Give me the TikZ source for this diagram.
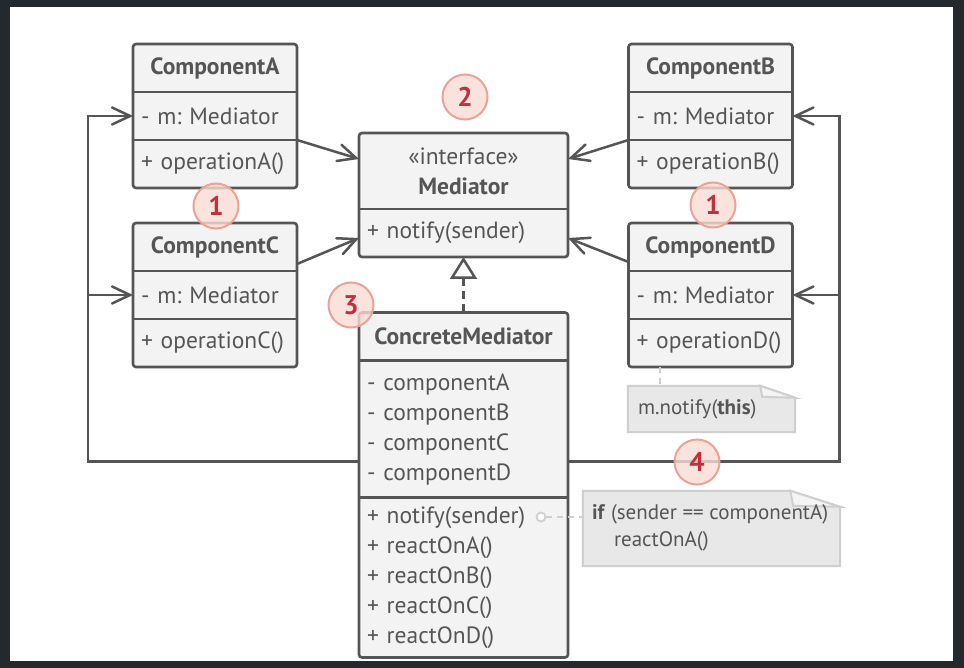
\documentclass[tikz,border=0pt]{standalone}
\usepackage{fontspec}
\setmainfont{PT Sans}
\usetikzlibrary{arrows.meta,positioning}
\frenchspacing

\definecolor{ink}{HTML}{555555}
\definecolor{boxfill}{HTML}{F3F3F3}
\definecolor{notefill}{HTML}{E8E8E8}
\definecolor{foldfill}{HTML}{F4F4F4}
\definecolor{noteline}{HTML}{CFCFCF}
\definecolor{badgefill}{HTML}{F9DCD5}
\definecolor{badgeline}{HTML}{EBA393}
\definecolor{badgetext}{HTML}{C1313B}
\definecolor{frame}{HTML}{24292E}

\begin{document}
\begin{tikzpicture}[x=1pt,y=-1pt]
\tikzset{
  part/.style={fill=boxfill, inner xsep=8pt, inner ysep=0pt, outer sep=0pt, minimum height=48pt, text=ink, font=\fontsize{23.5}{30}\selectfont},
  title/.style={part, align=center, text width=#1, font=\fontsize{23.5}{30}\selectfont\bfseries},
  field/.style={part, align=left, text width=#1},
  outline/.style={draw=ink, line width=2.6pt, rounded corners=3pt},
  divider/.style={draw=ink, line width=2.6pt},
  assoc/.style={draw=ink, line width=2.5pt, -{Straight Barb[length=18pt,width=17pt,line cap=round]}},
  realize/.style={draw=ink, line width=2.5pt, dash pattern=on 8pt off 5pt, -{Triangle[open,length=22pt,width=27pt]}},
  badge/.style={circle, minimum size=45pt, inner sep=0pt, fill=badgefill, fill opacity=0.8, text opacity=1, draw=badgeline, line width=2pt, text=badgetext, font=\fontsize{27}{27}\selectfont\bfseries},
  notebox/.style={fill=notefill, draw=noteline, line width=2pt},
  notetext/.style={text=ink, inner sep=0pt, align=left, font=\fontsize{21}{27}\selectfont},
  notelink/.style={draw=noteline, line width=2pt, dash pattern=on 6pt off 5pt},
  hook/.style={circle, draw=noteline, fill=white, line width=1.8pt, minimum size=9pt, inner sep=0pt}
}
\useasboundingbox (0,0) rectangle (964,668);
\fill[frame] (0,0) rectangle (964,668);
\fill[white] (10,7) rectangle (953,661);

% components
\node[title=148pt] (A) at (215,68) {ComponentA};
\node[field=148pt, below=0pt of A] (Am) {- m: Mediator};
\node[field=148pt, below=0pt of Am] (Ao) {+ operationA()};
\node[title=148pt] (B) at (710.5,68) {ComponentB};
\node[field=148pt, below=0pt of B] (Bm) {- m: Mediator};
\node[field=148pt, below=0pt of Bm] (Bo) {+ operationB()};
\node[title=148pt] (C) at (215,247) {ComponentC};
\node[field=148pt, below=0pt of C] (Cm) {- m: Mediator};
\node[field=148pt, below=0pt of Cm] (Co) {+ operationC()};
\node[title=148pt] (D) at (710.5,247) {ComponentD};
\node[field=148pt, below=0pt of D] (Dm) {- m: Mediator};
\node[field=148pt, below=0pt of Dm] (Do) {+ operationD()};

% mediators
\node[part, align=center, text width=193pt, minimum height=76pt] (Med) at (463.5,171) {«interface»\\\textbf{Mediator}};
\node[field=193pt, below=0pt of Med] (Medo) {+ notify(sender)};
\node[title=193pt] (CM) at (463.5,336.5) {ConcreteMediator};
\node[field=193pt, minimum height=137pt, below=0pt of CM] (CMm) {- componentA\\- componentB\\- componentC\\- componentD};
\node[field=193pt, minimum height=160pt, below=0pt of CMm] (CMo) {+ notify(sender)\\+ reactOnA()\\+ reactOnB()\\+ reactOnC()\\+ reactOnD()};

\foreach \c in {A,B,C,D,CM} {
  \draw[outline] (\c.north west) rectangle (\c o.south east);
  \draw[divider] (\c m.north west) -- (\c m.north east);
  \draw[divider] (\c o.north west) -- (\c o.north east);
}
\draw[outline] (Med.north west) rectangle (Medo.south east);
\draw[divider] (Medo.north west) -- (Medo.north east);

% arrows
\draw[assoc] (Ao.north east) -- ([yshift=12pt]Med.west);
\draw[assoc] ([yshift=7pt]Cm.north east) -- ([yshift=-5pt]Medo.west);
\draw[assoc] (Bo.north west) -- ([yshift=12pt]Med.east);
\draw[assoc] ([yshift=9pt]Dm.north west) -- ([yshift=-5pt]Medo.east);
\draw[realize] (CM.north) -- (Medo.south);

\coordinate (busL) at ([yshift=-32.5pt]CMm.west);
\coordinate (busR) at ([yshift=-32.5pt]CMm.east);
\draw[assoc] (busL) -| ([xshift=-45pt]Am.west) -- (Am.west);
\draw[assoc] ([xshift=-45pt]Cm.west) -- (Cm.west);
\draw[assoc] (busR) -| ([xshift=47pt]Bm.east) -- (Bm.east);
\draw[assoc] ([xshift=47pt]Dm.east) -- (Dm.east);

% notes
\node[minimum width=167pt, minimum height=46pt, inner sep=0pt] (note1) at (711.5,409) {};
\path[notebox] (note1.north west) -- ([xshift=-35pt]note1.north east) -- ([yshift=-12pt]note1.north east) -- (note1.south east) -- (note1.south west) -- cycle;
\path[notebox, fill=foldfill] ([xshift=-35pt]note1.north east) -- ([xshift=-33pt,yshift=-11pt]note1.north east) -- ([yshift=-12pt]note1.north east) -- cycle;
\node[notetext, anchor=west] (note1txt) at ([xshift=10pt]note1.west) {m.notify(\textbf{this})};
\draw[notelink] ([xshift=-50.5pt]Do.south) -- ([xshift=-51.5pt]note1.north);

\node[minimum width=257pt, minimum height=75pt, inner sep=0pt] (note2) at (711.5,528.5) {};
\path[notebox] (note2.north west) -- ([xshift=-50pt]note2.north east) -- ([yshift=-16pt]note2.north east) -- (note2.south east) -- (note2.south west) -- cycle;
\path[notebox, fill=foldfill] ([xshift=-50pt]note2.north east) -- ([xshift=-47pt,yshift=-15pt]note2.north east) -- ([yshift=-16pt]note2.north east) -- cycle;
\node[notetext, anchor=west] (note2txt) at ([xshift=9pt,yshift=1pt]note2.west) {\textbf{if} (sender == componentA)\\\hspace*{22pt}reactOnA()};
\node[hook] (hook) at (541,517) {};
\draw[notelink] (hook.east) -- (hook.east -| note2.west);

% numbers
\node[badge] (n2) at (465,97) {2};
\node[badge] (n1a) at (216,206) {1};
\node[badge] (n1b) at (713,205) {1};
\node[badge] (n3) at (351,305) {3};
\node[badge] (n4) at (697,462) {4};
\end{tikzpicture}
\end{document}
